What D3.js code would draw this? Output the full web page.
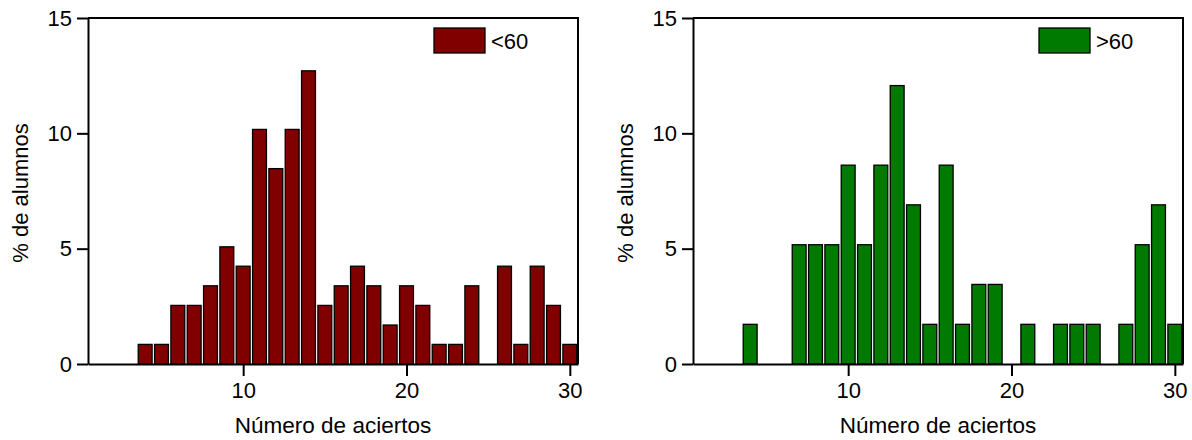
<!DOCTYPE html>
<html lang="es">
<head>
  <meta charset="utf-8">
  <script src="https://cdn.jsdelivr.net/npm/d3@7/dist/d3.min.js"></script>
  <style>
    body { margin: 0; background: #fff; }
    text { font-family: "Liberation Sans", Arial, sans-serif; fill: #000; }
  </style>
</head>
<body>
<script>

var width = 1192,
    height = 440;

// number of correct answers (x categories)
var aciertos = d3.range(4, 31);

// % of students, group <60
var menos60 = [0.85, 0.85, 2.54, 2.54, 3.39, 5.08, 4.24, 10.17, 8.47, 10.17, 12.71, 2.54, 3.39, 4.24,
               3.39, 1.69, 3.39, 2.54, 0.85, 0.85, 3.39, 0, 4.24, 0.85, 4.24, 2.54, 0.85];

// % of students, group >60
var mas60 = [1.72, 0, 0, 5.17, 5.17, 5.17, 8.62, 5.17, 8.62, 12.07, 6.90, 1.72, 8.62, 1.72,
             3.45, 3.45, 0, 1.72, 0, 1.72, 1.72, 1.72, 0, 1.72, 5.17, 6.90, 1.72];

var xTicks = [10, 20, 30],
    yTicks = [0, 5, 10, 15];

var svg = d3.select("body").append("svg")
    .attr("width", width)
    .attr("height", height);

function panel(left, values, color, label) {
  var top = 18, bottom = 364, right = left + 490;

  var x = d3.scaleLinear().domain([0.5, 30.5]).range([left, right]);
  var y = d3.scaleLinear().domain([0, 15]).range([bottom, top]);
  var bw = (x(1) - x(0)) * 0.85;

  var g = svg.append("g");

  // bars
  g.selectAll("rect.bar")
      .data(aciertos.map(function(a, i) { return {a: a, v: values[i]}; })
                    .filter(function(d) { return d.v > 0; }))
    .enter().append("rect")
      .attr("class", "bar")
      .attr("x", function(d) { return x(d.a) - bw / 2; })
      .attr("y", function(d) { return y(d.v); })
      .attr("width", bw)
      .attr("height", function(d) { return y(0) - y(d.v); })
      .attr("fill", color)
      .attr("stroke", "#000")
      .attr("stroke-width", 1.3);

  // frame (top + right)
  g.append("path")
      .attr("d", "M" + left + "," + top + "H" + right + "V" + bottom)
      .attr("fill", "none")
      .attr("stroke", "#000")
      .attr("stroke-width", 2);

  // axes
  var xAxis = d3.axisBottom(x).tickValues(xTicks).tickSize(12).tickSizeOuter(0).tickPadding(6);
  var yAxis = d3.axisLeft(y).tickValues(yTicks).tickSize(11).tickSizeOuter(0).tickPadding(5);

  var gx = g.append("g").attr("transform", "translate(0," + bottom + ")").call(xAxis);
  var gy = g.append("g").attr("transform", "translate(" + left + ",0)").call(yAxis);

  [gx, gy].forEach(function(a) {
    a.selectAll("path, line").attr("stroke", "#000").attr("stroke-width", 2);
    a.selectAll("text").style("font-size", "22px").attr("fill", "#000");
  });

  g.append("text")
      .attr("x", (left + right) / 2 - 0)
      .attr("y", 433)
      .attr("text-anchor", "middle")
      .style("font-size", "22.5px")
      .text("Número de aciertos");

  g.append("text")
      .attr("transform", "translate(" + (left - 60) + "," + ((top + bottom) / 2 + 2) + ")rotate(-90)")
      .attr("text-anchor", "middle")
      .style("font-size", "22px")
      .text("% de alumnos");

  // legend
  g.append("rect")
      .attr("x", right - 144)
      .attr("y", 28)
      .attr("width", 51)
      .attr("height", 25)
      .attr("fill", color)
      .attr("stroke", "#000")
      .attr("stroke-width", 1.3);

  g.append("text")
      .attr("x", right - 87)
      .attr("y", 49)
      .style("font-size", "22px")
      .text(label);
}

panel(88, menos60, "#800000", "<60");
panel(693, mas60, "#007a00", ">60");

</script>
</body>
</html>
